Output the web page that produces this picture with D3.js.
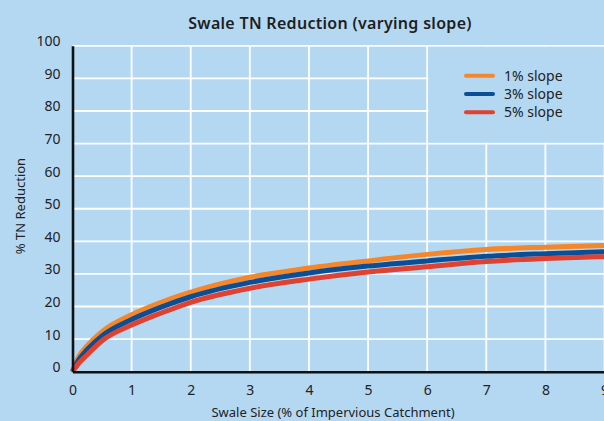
<!DOCTYPE html>
<html>
<head>
<meta charset="utf-8">
<script src="https://cdn.jsdelivr.net/npm/d3@7"></script>
<style>
  html, body { margin: 0; padding: 0; background: #b5d8f2; overflow: hidden; }
  svg { display: block; font-family: "Noto Sans", "Open Sans", sans-serif; }
</style>
</head>
<body>
<svg id="chart" width="604" height="421"></svg>
<script>
// Swale size (% of impervious catchment)
const swaleSize = [0, 0.1, 0.25, 0.5, 1, 1.5, 2, 3, 4, 5, 6, 7, 8, 9];
// % TN reduction for each slope
const slope1 = [0, 4.5, 8.0, 12.3, 17.5, 21.3, 24.4, 29.0, 31.8, 34.0, 36.0, 37.5, 38.2, 38.7];
const slope3 = [0, 3.5, 6.8, 11.0, 16.0, 19.8, 23.0, 27.4, 30.3, 32.4, 34.0, 35.4, 36.2, 36.8];
const slope5 = [0, 2.5, 5.2, 9.5, 14.3, 18.0, 21.3, 25.6, 28.4, 30.6, 32.2, 33.8, 34.7, 35.3];

const seriesNames = ["1% slope", "3% slope", "5% slope"];
const seriesColors = ["#f5862a", "#0a4f95", "#e04232"];
const xTicks = [0, 1, 2, 3, 4, 5, 6, 7, 8, 9];
const yTicks = [0, 10, 20, 30, 40, 50, 60, 70, 80, 90, 100];

const series = [slope1, slope3, slope5].map((vals, i) => ({
  name: seriesNames[i],
  color: seriesColors[i],
  points: swaleSize.map((s, j) => ({ x: s, y: vals[j] }))
}));

const svg = d3.select("#chart");
const bg = "#b5d8f2";

const x = d3.scaleLinear().domain([0, 9]).range([72.5, 604.5]);
const y = d3.scaleLinear().domain([0, 100]).range([371.7, 45.8]);

// Title
svg.append("text")
  .attr("x", 330).attr("y", 29)
  .attr("text-anchor", "middle")
  .attr("font-size", 16).attr("font-weight", 600)
  .attr("letter-spacing", 0.3)
  .attr("fill", "#1e1e1e")
  .text("Swale TN Reduction (varying slope)");

// Gridlines
const grid = svg.append("g");
grid.selectAll("line.h").data(yTicks.filter(d => d > 0)).join("line")
  .attr("x1", x(0)).attr("x2", 604)
  .attr("y1", d => y(d)).attr("y2", d => y(d))
  .attr("stroke", "#ffffff").attr("stroke-width", 1.8);
grid.selectAll("line.v").data(xTicks.filter(d => d > 0)).join("line")
  .attr("x1", d => x(d)).attr("x2", d => x(d))
  .attr("y1", y(0)).attr("y2", y(100))
  .attr("stroke", "#ffffff").attr("stroke-width", 1.8);

// Legend panel covers the upper-right grid cells
const legendG = svg.append("g");
legendG.append("rect")
  .attr("x", x(6) + 1.2).attr("y", y(100) + 1)
  .attr("width", 200).attr("height", y(70) - y(100) - 2)
  .attr("fill", bg);

// Series lines
const line = d3.line()
  .x(d => x(d.x)).y(d => y(d.y))
  .curve(d3.curveMonotoneX);

svg.append("g").selectAll("path").data(series).join("path")
  .attr("d", d => line(d.points))
  .attr("fill", "none")
  .attr("stroke", d => d.color)
  .attr("stroke-width", 5)
  .attr("stroke-linejoin", "round");

// Axes
const xAxis = d3.axisBottom(x).tickValues(xTicks).tickSize(0).tickPadding(13);
const gx = svg.append("g").attr("transform", `translate(0,${y(0)})`).call(xAxis);
gx.select(".domain").attr("stroke", "#111").attr("stroke-width", 2.6);
gx.selectAll("text").attr("font-size", 14).attr("fill", "#222")
  .attr("font-family", "Noto Sans, sans-serif");

const yAxis = d3.axisLeft(y).tickValues(yTicks).tickSize(0).tickPadding(12);
const gy = svg.append("g").attr("transform", `translate(${x(0)},0)`).call(yAxis);
gy.select(".domain").attr("stroke", "#111").attr("stroke-width", 2.6);
gy.selectAll("text").attr("font-size", 14).attr("fill", "#222")
  .attr("font-family", "Noto Sans, sans-serif")
  .attr("dy", 0).attr("dominant-baseline", "alphabetic");

// Axis titles
svg.append("text")
  .attr("x", 333).attr("y", 417)
  .attr("text-anchor", "middle")
  .attr("font-size", 13).attr("fill", "#222")
  .text("Swale Size (% of Impervious Catchment)");

svg.append("text")
  .attr("transform", "translate(25,206) rotate(-90)")
  .attr("text-anchor", "middle")
  .attr("font-size", 13).attr("fill", "#222")
  .text("% TN Reduction");

// Legend entries
const legendItems = legendG.selectAll("g.item").data(series).join("g")
  .attr("transform", (d, i) => `translate(466,${75.7 + i * 18.3})`);
legendItems.append("line")
  .attr("x1", 0).attr("x2", 27).attr("y1", 0).attr("y2", 0)
  .attr("stroke", d => d.color).attr("stroke-width", 4)
  .attr("stroke-linecap", "round");
legendItems.append("text")
  .attr("x", 38).attr("y", 5)
  .attr("font-size", 14).attr("fill", "#222")
  .text(d => d.name);
</script>
</body>
</html>
